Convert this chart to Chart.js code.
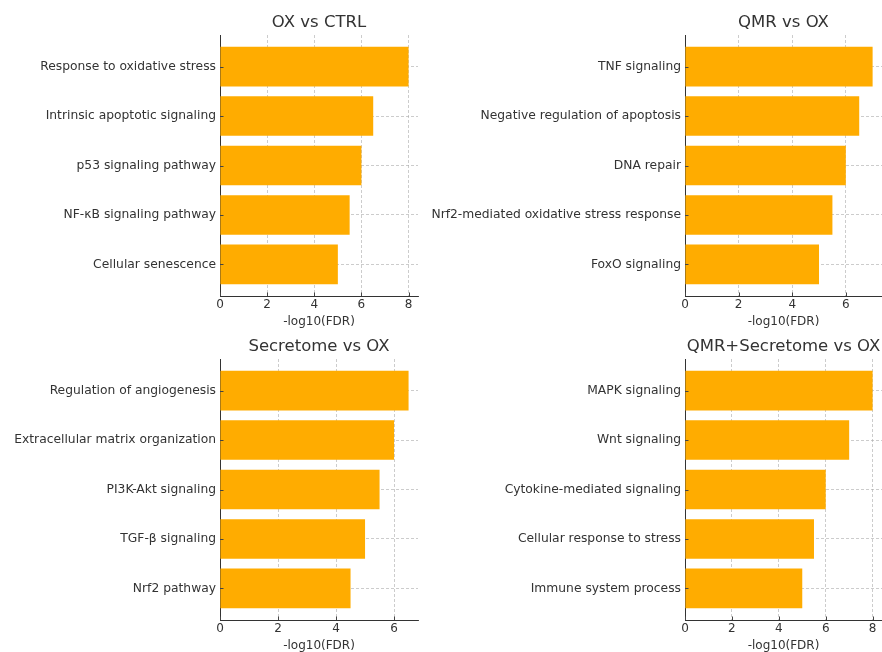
<!DOCTYPE html>
<html>
<head>
<meta charset="utf-8">
<script src="https://cdn.jsdelivr.net/npm/chart.js@4/dist/chart.umd.min.js"></script>
<style>
  html, body { margin: 0; padding: 0; background: #fff; overflow: hidden; }
  body { width: 882px; height: 652px; position: relative; }
  canvas { position: absolute; }
</style>
</head>
<body>
<canvas id="p1" width="441" height="331" style="left:0;top:0"></canvas>
<canvas id="p2" width="462" height="331" style="left:420px;top:0"></canvas>
<canvas id="p3" width="441" height="324" style="left:0;top:331px"></canvas>
<canvas id="p4" width="462" height="324" style="left:420px;top:331px"></canvas>
<script>
// Enrichment results, -log10(FDR) per term, listed top to bottom
const oxCtrlTerms = ['Response to oxidative stress', 'Intrinsic apoptotic signaling', 'p53 signaling pathway', 'NF-κB signaling pathway', 'Cellular senescence'];
const oxCtrlScores = [8, 6.5, 6, 5.5, 5];

const qmrTerms = ['TNF signaling', 'Negative regulation of apoptosis', 'DNA repair', 'Nrf2-mediated oxidative stress response', 'FoxO signaling'];
const qmrScores = [7, 6.5, 6, 5.5, 5];

const secretomeTerms = ['Regulation of angiogenesis', 'Extracellular matrix organization', 'PI3K-Akt signaling', 'TGF-β signaling', 'Nrf2 pathway'];
const secretomeScores = [6.5, 6, 5.5, 5, 4.5];

const comboTerms = ['MAPK signaling', 'Wnt signaling', 'Cytokine-mediated signaling', 'Cellular response to stress', 'Immune system process'];
const comboScores = [8, 7, 6, 5.5, 5];

const xTickValues = [0, 2, 4, 6, 8];
const xAxisLabel = '-log10(FDR)';

const FONT = "'DejaVu Sans', sans-serif";
const TEXT = '#333333';
const BAR = '#FFAC00';
const GRID = 'rgba(170,170,170,0.75)';

// short inward tick marks on both axes
const innerTicks = {
  id: 'innerTicks',
  afterDatasetsDraw(chart) {
    const { ctx, chartArea: a, scales: { x, y } } = chart;
    ctx.save();
    ctx.strokeStyle = '#444';
    ctx.lineWidth = 1;
    ctx.beginPath();
    x.ticks.forEach(t => {
      const px = Math.round(x.getPixelForValue(t.value)) + 0.5;
      ctx.moveTo(px, a.bottom);
      ctx.lineTo(px, a.bottom - 3.5);
    });
    y.ticks.forEach(t => {
      const py = Math.round(y.getPixelForValue(t.value)) + 0.5;
      ctx.moveTo(a.left, py);
      ctx.lineTo(a.left + 3.5, py);
    });
    ctx.stroke();
    ctx.restore();
  }
};

function makePanel(id, title, terms, scores, layout) {
  const n = terms.length;
  const span = (n - 1) + 0.8;
  return new Chart(document.getElementById(id), {
    type: 'bar',
    data: {
      datasets: [{
        data: scores.map((v, i) => ({ x: v, y: i })),
        backgroundColor: BAR,
        borderWidth: 0,
        barPercentage: 0.8,
        categoryPercentage: 1
      }]
    },
    options: {
      indexAxis: 'y',
      responsive: false,
      animation: false,
      devicePixelRatio: 1,
      layout: { padding: { left: 0, right: layout.padRight, top: 0, bottom: 0 } },
      plugins: {
        legend: { display: false },
        tooltip: { enabled: false },
        title: {
          display: true,
          fullSize: false,
          text: title,
          color: TEXT,
          font: { family: FONT, size: 16.5, weight: 'normal', lineHeight: 1.2 },
          padding: { top: layout.titleTop, bottom: layout.titleBottom }
        }
      },
      scales: {
        x: {
          type: 'linear',
          min: 0,
          max: Math.max(...scores) * 1.05,
          afterBuildTicks: s => { s.ticks = xTickValues.filter(v => v <= s.max).map(v => ({ value: v })); },
          afterFit: s => { s.height = 35; },
          ticks: { color: TEXT, padding: 2, font: { family: FONT, size: 12 } },
          grid: { color: GRID, lineWidth: 0.8, drawTicks: false },
          border: { display: true, color: '#333', width: 1, dash: [3, 2] },
          title: {
            display: true,
            text: xAxisLabel,
            color: TEXT,
            font: { family: FONT, size: 12, lineHeight: 1.2 },
            padding: { top: 0, bottom: 1.8 }
          }
        },
        y: {
          type: 'linear',
          reverse: true,
          offset: false,
          min: -0.4 - span * 0.05,
          max: (n - 1) + 0.4 + span * 0.05,
          afterBuildTicks: s => { s.ticks = terms.map((_, i) => ({ value: i })); },
          afterFit: s => { s.width = layout.axisWidth; },
          ticks: {
            autoSkip: false,
            color: TEXT,
            padding: 4,
            font: { family: FONT, size: 12.3 },
            callback: v => terms[v]
          },
          grid: { color: GRID, lineWidth: 0.8, drawTicks: false, offset: false },
          border: { display: true, color: '#333', width: 1, dash: [3, 2] }
        }
      }
    },
    plugins: [innerTicks]
  });
}

const topLayout = { titleTop: 12.6, titleBottom: 2.6 };
const bottomLayout = { titleTop: 6.2, titleBottom: 2.0 };

makePanel('p1', 'OX vs CTRL', oxCtrlTerms, oxCtrlScores, Object.assign({ axisWidth: 220, padRight: 23 }, topLayout));
makePanel('p2', 'QMR vs OX', qmrTerms, qmrScores, Object.assign({ axisWidth: 265, padRight: 0 }, topLayout));
makePanel('p3', 'Secretome vs OX', secretomeTerms, secretomeScores, Object.assign({ axisWidth: 220, padRight: 23 }, bottomLayout));
makePanel('p4', 'QMR+Secretome vs OX', comboTerms, comboScores, Object.assign({ axisWidth: 265, padRight: 0 }, bottomLayout));
</script>
</body>
</html>
